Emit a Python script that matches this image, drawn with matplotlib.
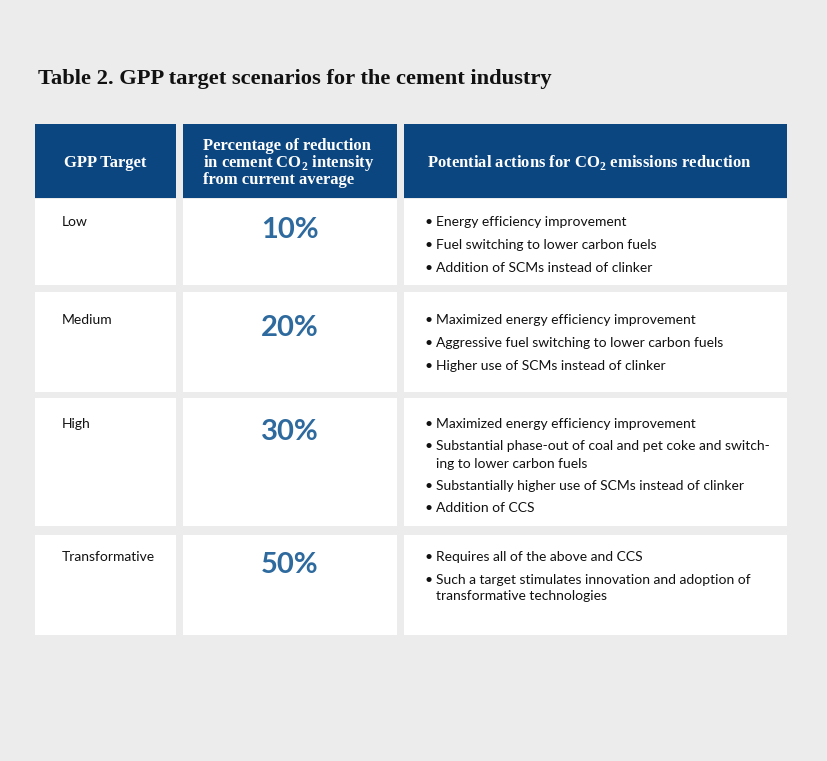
import matplotlib.pyplot as plt
from matplotlib.patches import Rectangle

plt.rcParams['mathtext.fontset'] = 'custom'
plt.rcParams['mathtext.rm'] = 'Liberation Serif:bold'
plt.rcParams['mathtext.bf'] = 'Liberation Serif:bold'

# table content
title = "Table 2. GPP target scenarios for the cement industry"
headers = ["GPP Target",
           "Percentage of reduction\nin cement CO$_2$ intensity\nfrom current average",
           "Potential actions for CO$_2$ emissions reduction"]
targets = ["Low", "Medium", "High", "Transformative"]
percents = ["10%", "20%", "30%", "50%"]
actions = [
    ["Energy efficiency improvement",
     "Fuel switching to lower carbon fuels",
     "Addition of SCMs instead of clinker"],
    ["Maximized energy efficiency improvement",
     "Aggressive fuel switching to lower carbon fuels",
     "Higher use of SCMs instead of clinker"],
    ["Maximized energy efficiency improvement",
     "Substantial phase-out of coal and pet coke and switch-\ning to lower carbon fuels",
     "Substantially higher use of SCMs instead of clinker",
     "Addition of CCS"],
    ["Requires all of the above and CCS",
     "Such a target stimulates innovation and adoption of\ntransformative technologies"],
]

# layout in pixels
W, H = 828, 761
col_x = [(35, 176), (183, 397), (404, 787)]
header_y = (124, 198)
row_y = [(199, 285), (292, 392), (398, 526), (535, 635)]
row_pad = [23.5, 28.5, 26, 22]

bg = '#ececec'
navy = '#0b4680'
blue = '#2e6a9e'
serif = ['Liberation Serif']
sans = ['Lato', 'DejaVu Sans']

fig = plt.figure(figsize=(W / 100, H / 100), dpi=100, facecolor=bg)
ax = fig.add_axes([0, 0, 1, 1])
ax.set_xlim(0, W)
ax.set_ylim(H, 0)
ax.axis('off')

ax.text(38, 84, title, fontsize=16.2, fontweight='bold', family=serif,
        color='#111111', va='baseline', ha='left')

# header
for (x0, x1) in col_x:
    ax.add_patch(Rectangle((x0, header_y[0]), x1 - x0, header_y[1] - header_y[0],
                           facecolor=navy, edgecolor='none'))
hb = 167  # baseline of the middle header line
ax.text((col_x[0][0] + col_x[0][1]) / 2, hb, headers[0], color='white',
        fontsize=12, fontweight='bold', family=serif, ha='center', va='baseline')
for k, ln in enumerate(headers[1].split('\n')):
    ax.text(203, hb + (k - 1) * 17.5, ln, color='white', fontsize=12,
            fontweight='bold', family=serif, ha='left', va='baseline')
ax.text(427, hb, headers[2], color='white', fontsize=12, fontweight='bold',
        family=serif, ha='left', va='baseline')

# rows
for i, (y0, y1) in enumerate(row_y):
    for (x0, x1) in col_x:
        ax.add_patch(Rectangle((x0, y0), x1 - x0, y1 - y0,
                               facecolor='white', edgecolor='none'))
    ty = y0 + row_pad[i]
    ax.text(62, ty, targets[i], fontsize=10, family=sans, color='#111111',
            ha='left', va='center')
    ax.text((col_x[1][0] + col_x[1][1]) / 2, ty + 8, percents[i], fontsize=21,
            fontweight='bold', family=sans, color=blue, ha='center', va='center')
    y = ty
    for a in actions[i]:
        lines = a.split('\n')
        ax.text(425, y, '\u2022', fontsize=10, family=sans, color='#111111',
                ha='left', va='center')
        for ln in lines:
            ax.text(436, y, ln, fontsize=10, family=sans, color='#111111',
                    ha='left', va='center')
            y += 17
        y += 5.5

fig.savefig('out.png', dpi=100, facecolor=bg)
